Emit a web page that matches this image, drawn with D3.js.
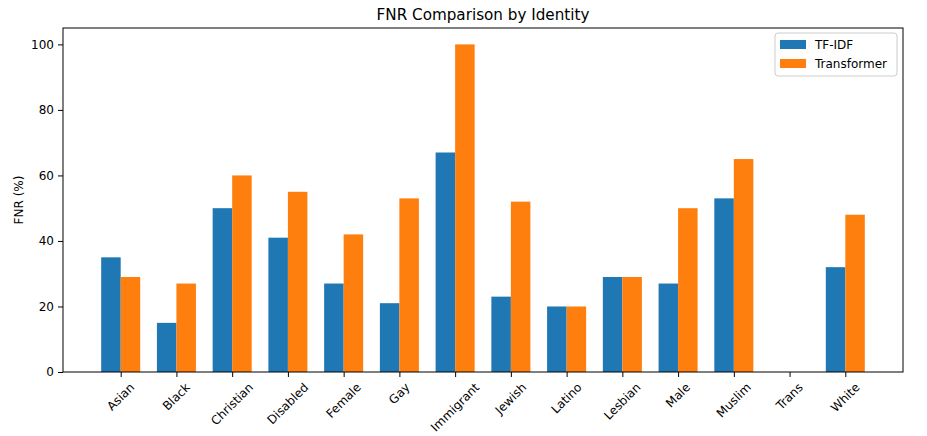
<!DOCTYPE html>
<html>
<head>
  <title>FNR Comparison by Identity</title>
  <script src="https://d3js.org/d3.v7.min.js"></script>
  <style>
    body { margin: 0; background: #fff; }
    text { font-family: "DejaVu Sans", sans-serif; fill: #000; }
  </style>
</head>
<body>
  <div id="chart"></div>
  <script>
  const identities = ["Asian", "Black", "Christian", "Disabled", "Female", "Gay", "Immigrant",
    "Jewish", "Latino", "Lesbian", "Male", "Muslim", "Trans", "White"];
  const tfidf = [35, 15, 50, 41, 27, 21, 67, 23, 20, 29, 27, 53, 0, 32];
  const transformer = [29, 27, 60, 55, 42, 53, 100, 52, 20, 29, 50, 65, 0, 48];
  const yTicks = [0, 20, 40, 60, 80, 100];

  const W = 927, H = 436;
  const margin = { top: 28, right: 24, bottom: 64, left: 63 };
  const width = W - margin.left - margin.right;
  const height = H - margin.top - margin.bottom;
  const barW = 0.35;

  const svg = d3.select("#chart").append("svg")
    .attr("width", W).attr("height", H);
  const g = svg.append("g")
    .attr("transform", `translate(${margin.left},${margin.top})`);

  // matplotlib-style linear x: bars span [-0.35, n-1+0.35] plus 5% margins
  const lo = -barW, hi = identities.length - 1 + barW, pad = (hi - lo) * 0.05;
  const x = d3.scaleLinear().domain([lo - pad, hi + pad]).range([0, width]);
  const yMax = d3.max(transformer.concat(tfidf)) * 1.05;
  const y = d3.scaleLinear().domain([0, yMax]).range([height, 0]);

  const series = [
    { name: "TF-IDF", values: tfidf, color: "#1f77b4", off: -barW / 2 },
    { name: "Transformer", values: transformer, color: "#ff7f0e", off: barW / 2 }
  ];

  series.forEach(s => {
    g.append("g").selectAll("rect")
      .data(s.values)
      .enter().append("rect")
      .attr("x", (d, i) => x(i + s.off - barW / 2))
      .attr("y", d => y(d))
      .attr("width", x(barW) - x(0))
      .attr("height", d => height - y(d))
      .attr("fill", s.color);
  });

  // y axis
  const yAxis = g.append("g")
    .call(d3.axisLeft(y).tickValues(yTicks).tickSize(5).tickPadding(4));
  yAxis.select(".domain").remove();
  yAxis.selectAll("text").style("font-size", "12px").attr("fill", "#000");
  yAxis.selectAll("line").attr("stroke", "#000");

  // x axis
  const xAxis = g.append("g")
    .attr("transform", `translate(0,${height})`)
    .call(d3.axisBottom(x).tickValues(d3.range(identities.length)).tickSize(5).tickFormat(""));
  xAxis.select(".domain").remove();
  xAxis.selectAll("line").attr("stroke", "#000");

  const labels = g.append("g").selectAll("text")
    .data(identities)
    .enter().append("text")
    .style("font-size", "12px")
    .attr("text-anchor", "middle")
    .attr("dominant-baseline", "central")
    .text(d => d);
  labels.each(function (d, i) {
    const w = this.getComputedTextLength();
    const h = 12;
    const cy = height + 9 + (w + h) / (2 * Math.SQRT2);
    const cx = x(i);
    d3.select(this)
      .attr("x", cx).attr("y", cy)
      .attr("transform", `rotate(-45,${cx},${cy})`);
  });

  // frame
  g.append("rect")
    .attr("width", width).attr("height", height)
    .attr("fill", "none").attr("stroke", "#000").attr("stroke-width", 1);

  // axis title
  svg.append("text")
    .attr("transform", `translate(19,${margin.top + height / 2}) rotate(-90)`)
    .attr("text-anchor", "middle")
    .attr("dominant-baseline", "central")
    .style("font-size", "12px")
    .text("FNR (%)");

  // chart title
  svg.append("text")
    .attr("x", margin.left + width / 2).attr("y", 20)
    .attr("text-anchor", "middle")
    .style("font-size", "15.2px")
    .text("FNR Comparison by Identity");

  // legend
  const leg = g.append("g").attr("transform", `translate(${width - 128},5)`);
  leg.append("rect")
    .attr("width", 122).attr("height", 43).attr("rx", 3)
    .attr("fill", "#fff").attr("fill-opacity", 0.8)
    .attr("stroke", "#ccc").attr("stroke-width", 1);
  series.forEach((s, i) => {
    const row = leg.append("g").attr("transform", `translate(5,${7 + i * 19})`);
    row.append("rect").attr("width", 26).attr("height", 9).attr("fill", s.color);
    row.append("text")
      .attr("x", 35).attr("y", 4.5)
      .attr("dominant-baseline", "central")
      .style("font-size", "12px")
      .text(s.name);
  });
  </script>
</body>
</html>
